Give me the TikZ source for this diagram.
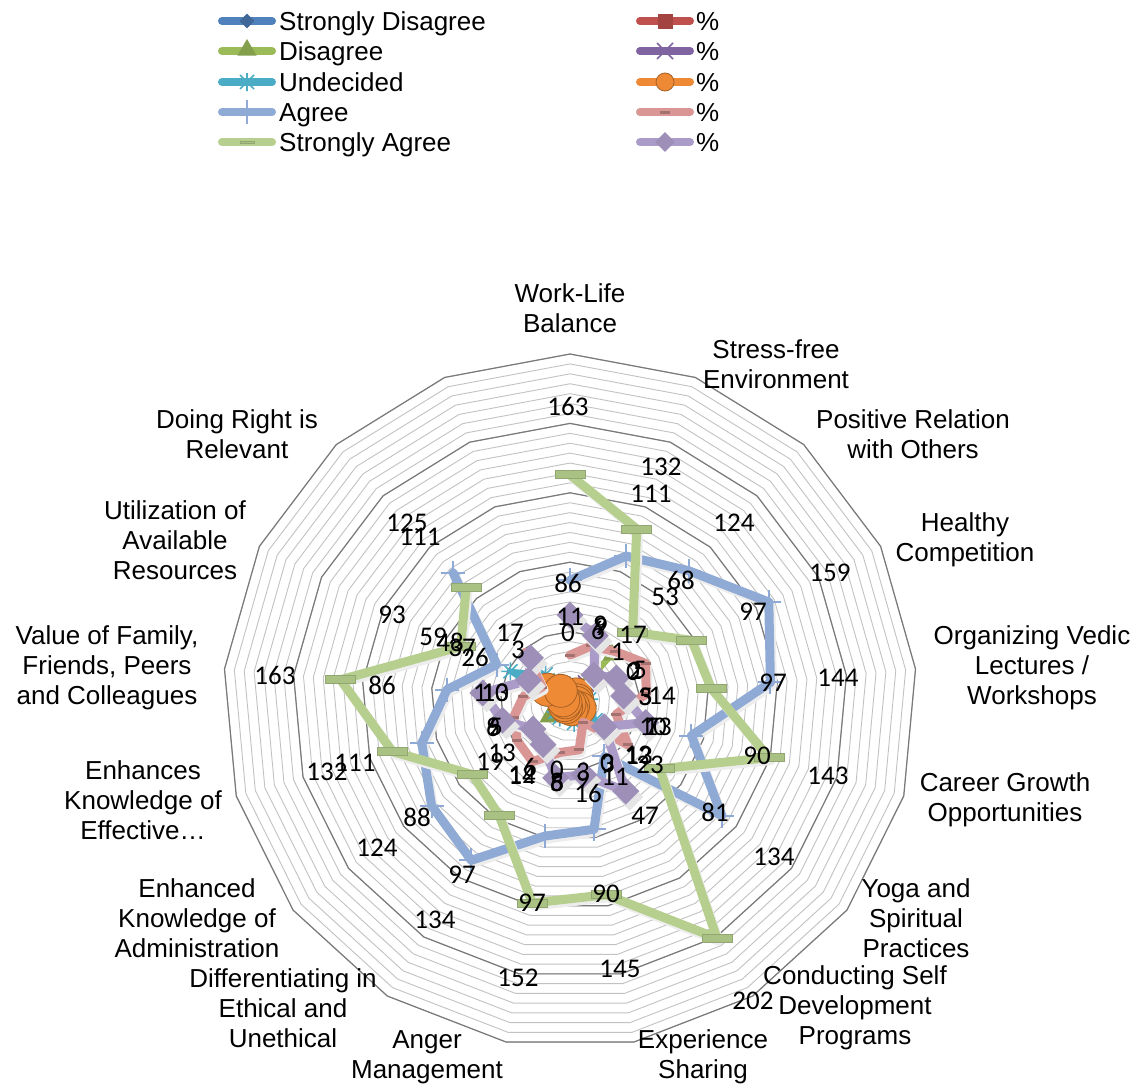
\documentclass[tikz,border=0pt]{standalone}
\usepackage{fontspec}
\setmainfont{Liberation Sans}
\newfontfamily\calib{Carlito}
\usetikzlibrary{shapes.geometric}
\definecolor{cSD}{HTML}{4F81BD}
\definecolor{cD}{HTML}{9BBB59}
\definecolor{cU}{HTML}{4BACC6}
\definecolor{cA}{HTML}{8FAAD4}
\definecolor{cSA}{HTML}{B7CF8E}
\definecolor{cSDp}{HTML}{C0504D}
\definecolor{cDp}{HTML}{8064A2}
\definecolor{cUp}{HTML}{EE8A35}
\definecolor{cAp}{HTML}{D99694}
\definecolor{cSAp}{HTML}{AB9BC8}
\newcommand\defpts[3]{%
  \foreach \v [count=\k from 0] in {#3} {\coordinate (#1\k) at ({570+#2*\v*sin(\k*360/17)},{701-#2*\v*cos(\k*360/17)});}}
\newcommand\serline[2]{\draw[#2] (#10) \foreach \i in {1,...,15}{-- (#1\i)};}
\newcommand\sermark[2]{\foreach \i in {0,...,15}{\node[#2] at (#1\i) {};}}
\newcommand\serpic[2]{\foreach \i in {0,...,15}{\pic at (#1\i) {#2};}}
\tikzset{
 gridmin/.style={draw=black!24, line width=0.9},
 gridmaj/.style={draw=black!52, line width=1.2},
 sline/.style={line width=#1, line cap=round, line join=round},
 shad/.style={transform canvas={xshift=2pt,yshift=-3pt}},
 cat/.style={font=\fontsize{26}{30}\selectfont, align=center, inner sep=0},
 dl/.style={font=\calib\fontsize{27}{27}\selectfont, inner sep=0},
 leg/.style={font=\fontsize{26}{30}\selectfont, inner sep=0, anchor=base west},
 mSD/.style={diamond, fill=cSD!80!black, minimum size=15, inner sep=0},
 mD/.style={regular polygon, regular polygon sides=3, fill=cD!85!black, minimum size=22, inner sep=0},
 mSA/.style={rectangle, fill=cSA!93!black, draw=cSA!80!black, line width=0.6, minimum width=30, minimum height=8, inner sep=0},
 mSDp/.style={rectangle, fill=cSDp!85!black, minimum size=13, inner sep=0},
 mUp/.style={circle, fill=cUp, draw=cUp!70!black, line width=0.8, minimum size=33, inner sep=0},
 mAp/.style={rectangle, fill=cAp!75!black, minimum width=10, minimum height=3, inner sep=0},
 mSAp/.style={diamond, fill=cSAp!92!black, minimum size=27, inner sep=0},
 ustar/.pic={\draw[cU, line width=1.6] (-9,0)--(9,0) (-7,-7)--(7,7) (-7,7)--(7,-7) (0,-9)--(0,9);},
 aplus/.pic={\draw[cA, line width=2] (-12,0)--(12,0) (0,-12)--(0,12);},
 dpx/.pic={\draw[cDp, line width=1.6] (-8,-8)--(8,8) (-8,8)--(8,-8);},
}
\begin{document}
\begin{tikzpicture}[x=1pt,y=-1pt]
\useasboundingbox (0,0) rectangle (1147,1090);
\fill[white] (0,0) rectangle (1147,1090);
% grid
\foreach \i in {1,...,35}{
  \pgfmathsetmacro\rr{\i*347/35}
  \draw[gridmin] plot[samples=18,domain=0:17,variable=\t] ({570+\rr*sin(\t*360/17)},{701-\rr*cos(\t*360/17)}) -- cycle;
}
\foreach \i in {7,14,21,28,35}{
  \pgfmathsetmacro\rr{\i*347/35}
  \draw[gridmaj] plot[samples=18,domain=0:17,variable=\t] ({570+\rr*sin(\t*360/17)},{701-\rr*cos(\t*360/17)}) -- cycle;
}
% data points
\defpts{sa}{1.388}{163,133,67,98,102,149,81,201,142,148,97,88,133,166,88,111}
\defpts{lp}{0.5278}{163,133,67,98,102,149,81,201,142,148,97,88,133,166,88,111}
\defpts{ag}{1.388}{87,112,127,160,145,91,137,47,94,99,135,125,111,89,59,125}
\defpts{pk}{0.5278}{87,112,127,160,145,91,137,47,94,99,135,125,111,89,59,125}
\defpts{sd}{1.388}{0,6,1,0,3,10,12,0,3,0,6,13,5,1,3,3}
\defpts{sdp}{0.5278}{0,6,1,0,3,10,12,0,3,0,6,13,5,1,3,3}
\defpts{di}{1.388}{0,9,45,2,5,7,13,3,9,8,12,19,6,10,17,17}
\defpts{dip}{0.5278}{0,9,45,2,5,7,13,3,9,8,12,19,6,10,17,17}
\defpts{un}{1.388}{11,9,17,5,14,13,23,11,16,6,14,13,9,13,48,26}
\defpts{unp}{0.5278}{11,9,17,5,14,13,23,11,16,6,14,13,9,13,48,26}
% series
\serline{sd}{sline=5, cSD}
\sermark{sd}{mSD}
\serline{di}{sline=5, cD}
\sermark{di}{mD}
\serline{un}{sline=5, cU}
\serpic{un}{ustar}
\serline{ag}{sline=9, black!7, shad}
\serline{ag}{sline=9, cA}
\serpic{ag}{aplus}
\serline{sa}{sline=9, black!7, shad}
\serline{sa}{sline=9, cSA}
\sermark{sa}{mSA}
\serline{sdp}{sline=5, cSDp}
\sermark{sdp}{mSDp}
\serline{dip}{sline=5, cDp}
\serpic{dip}{dpx}
\serline{unp}{sline=8, cUp}
\sermark{unp}{mUp}
\serline{pk}{sline=9, black!7, shad}
\serline{pk}{sline=9, cAp}
\sermark{pk}{mAp}
\serline{lp}{sline=9, black!7, shad}
\serline{lp}{sline=9, cSAp}
\foreach \i in {0,...,15}{\node[mSAp, fill=black!10, shad] at (lp\i) {};}
\sermark{lp}{mSAp}
% category labels
\node[cat] (c0) at (570,308) {Work-Life\\Balance};
\node[cat] (c1) at (776,364) {Stress-free\\Environment};
\node[cat] (c2) at (913,434) {Positive Relation\\with Others};
\node[cat] (c3) at (965,540) {Healthy\\Competition};
\node[cat] (c4) at (1032,668) {Organizing Vedic\\Lectures /\\Workshops};
\node[cat] (c5) at (1005,800) {Career Growth\\Opportunities};
\node[cat] (c6) at (916,918) {Yoga and\\Spiritual\\Practices};
\node[cat] (c7) at (855,1008) {Conducting Self\\Development\\Programs};
\node[cat] (c8) at (703,1057) {Experience\\Sharing};
\node[cat] (c9) at (427,1057) {Anger\\Management};
\node[cat] (c10) at (283,1008) {Differentiating in\\Ethical and\\Unethical};
\node[cat] (c11) at (197,918) {Enhanced\\Knowledge of\\Administration};
\node[cat] (c12) at (143,800) {Enhances\\Knowledge of\\Effective…};
\node[cat] (c13) at (107,668) {Value of Family,\\Friends, Peers\\and Colleagues};
\node[cat] (c14) at (175,540) {Utilization of\\Available\\Resources};
\node[cat] (c15) at (237,434) {Doing Right is\\Relevant};
% data labels
\foreach \x/\y/\t in {568/406/163, 661/467/132, 651/494/111, 734/523/124, 830/573/159,
  681/580/68, 665/597/53, 753/612/97, 773/683/97, 838/678/144, 828/776/143, 757/756/90,
  715/812/81, 774/857/134, 645/816/47, 606/894/90, 620/969/145, 753/1001/202, 518/978/152,
  435/920/134, 532/903/97, 462/875/97, 377/848/124, 417/817/88, 327/772/132, 355/763/111,
  275/675/163, 382/685/86, 392/615/93, 407/523/125, 420/537/111, 433/637/59, 450/642/48,
  462/648/37, 475/657/26, 568/583/86,
  510/633/17, 518/650/3, 570/617/11, 568/633/0, 598/630/6, 600/625/9, 601/627/9,
  633/635/17, 618/652/1, 633/672/0, 635/671/2, 640/670/5, 645/697/3, 646/697/5, 662/696/14,
  653/727/10, 652/727/7, 658/727/13, 638/755/12, 639/756/13, 650/765/23, 607/763/0, 608/764/3,
  615/777/11, 583/772/3, 583/780/9, 588/793/16, 557/770/0, 557/782/8, 557/783/5, 557/782/6,
  530/767/6, 522/775/12, 522/776/14, 490/762/19, 502/753/13, 493/727/9, 493/727/6, 496/727/5,
  480/693/1, 495/693/10, 495/693/13}
  {\node[dl] at (\x,\y) {\t};}
% legend
\draw[cSD, sline=8] (222,21) -- (272,21); \node[mSD] at (247,21) {};
\node[leg] at (279,30) {Strongly Disagree};
\draw[cD, sline=8] (222,51) -- (272,51); \node[mD] at (247,50) {};
\node[leg] at (279,60) {Disagree};
\draw[cU, sline=8] (222,82) -- (272,82); \pic at (247,82) {ustar};
\node[leg] at (279,91) {Undecided};
\draw[cA, sline=8] (222,112) -- (272,112); \pic at (247,112) {aplus};
\node[leg] at (279,121) {Agree};
\draw[cSA, sline=8] (222,142) -- (272,142); \node[mSA, minimum width=14, minimum height=2] at (247,142) {};
\node[leg] at (279,151) {Strongly Agree};
\draw[cSDp, sline=8] (640,21) -- (690,21); \node[mSDp, minimum size=15] at (665,21) {};
\node[leg] at (696,30) {\%};
\draw[cDp, sline=8] (640,51) -- (690,51); \pic at (665,51) {dpx};
\node[leg] at (696,60) {\%};
\draw[cUp, sline=8] (640,82) -- (690,82); \node[mUp, minimum size=18] at (665,82) {};
\node[leg] at (696,91) {\%};
\draw[cAp, sline=8] (640,112) -- (690,112); \node[mAp] at (665,112) {};
\node[leg] at (696,121) {\%};
\draw[cSAp, sline=8] (640,142) -- (690,142); \node[mSAp, minimum size=20] at (665,142) {};
\node[leg] at (696,151) {\%};
\end{tikzpicture}
\end{document}
